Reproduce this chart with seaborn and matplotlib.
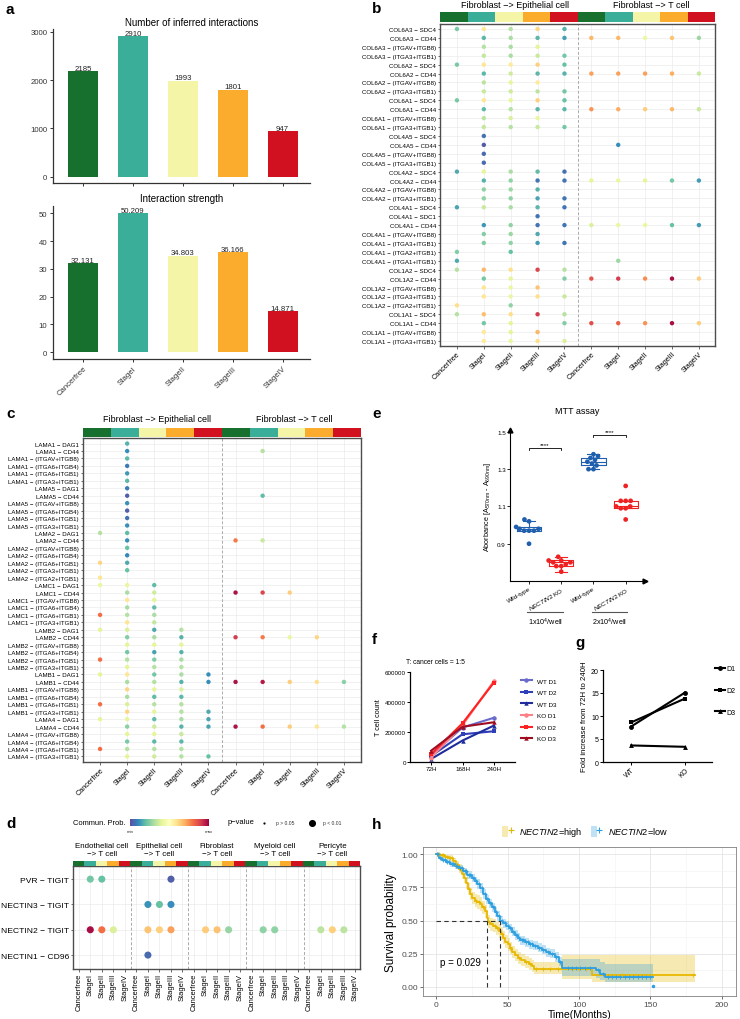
import numpy as np
import pandas as pd
import matplotlib
matplotlib.use("Agg")
import matplotlib.pyplot as plt
import matplotlib.ticker as mticker
import seaborn as sns
from matplotlib.lines import Line2D
from matplotlib.patches import Patch
from matplotlib.legend_handler import HandlerTuple

plt.rcParams["font.family"] = ["Liberation Sans", "DejaVu Sans"]
plt.rcParams["mathtext.fontset"] = "custom"
plt.rcParams["mathtext.rm"] = "Liberation Sans"
plt.rcParams["mathtext.it"] = "Liberation Sans:italic"
plt.rcParams["axes.unicode_minus"] = True

_ = None
# ---------------- data ----------------
stages = ["Cancerfree", "StageI", "StageII", "StageIII", "StageIV"]
stage_colors = ["#17702E", "#3AAE99", "#F5F5A7", "#FBAC2C", "#D1111F"]

a_counts = [2185, 2910, 1993, 1801, 947]
a_strength = [32.131, 50.209, 34.803, 36.166, 14.871]

b_headers = ["Fibroblast −> Epithelial cell", "Fibroblast −> T cell"]
b_rows = [
    "COL6A3 − SDC4", "COL6A3 − CD44", "COL6A3 − (ITGAV+ITGB8)", "COL6A3 − (ITGA3+ITGB1)",
    "COL6A2 − SDC4", "COL6A2 − CD44", "COL6A2 − (ITGAV+ITGB8)", "COL6A2 − (ITGA3+ITGB1)",
    "COL6A1 − SDC4", "COL6A1 − CD44", "COL6A1 − (ITGAV+ITGB8)", "COL6A1 − (ITGA3+ITGB1)",
    "COL4A5 − SDC4", "COL4A5 − CD44", "COL4A5 − (ITGAV+ITGB8)", "COL4A5 − (ITGA3+ITGB1)",
    "COL4A2 − SDC4", "COL4A2 − CD44", "COL4A2 − (ITGAV+ITGB8)", "COL4A2 − (ITGA3+ITGB1)",
    "COL4A1 − SDC4", "COL4A1 − SDC1", "COL4A1 − CD44", "COL4A1 − (ITGAV+ITGB8)",
    "COL4A1 − (ITGA3+ITGB1)", "COL4A1 − (ITGA2+ITGB1)", "COL4A1 − (ITGA1+ITGB1)",
    "COL1A2 − SDC4", "COL1A2 − CD44", "COL1A2 − (ITGAV+ITGB8)", "COL1A2 − (ITGA3+ITGB1)",
    "COL1A2 − (ITGA2+ITGB1)", "COL1A1 − SDC4", "COL1A1 − CD44", "COL1A1 − (ITGAV+ITGB8)",
    "COL1A1 − (ITGA3+ITGB1)",
]
b_vals = [
    [0.23, 0.58, 0.32, 0.62, 0.17, _, _, _, _, _],
    [_, 0.18, 0.30, 0.18, 0.14, 0.68, 0.68, 0.43, 0.66, 0.28],
    [_, 0.32, 0.30, 0.40, _, _, _, _, _, _],
    [_, 0.34, 0.30, 0.35, 0.22, _, _, _, _, _],
    [0.23, 0.58, 0.57, 0.63, 0.20, _, _, _, _, _],
    [_, 0.18, 0.36, 0.18, 0.175, 0.72, 0.72, 0.72, 0.70, 0.35],
    [_, 0.33, 0.41, 0.57, _, _, _, _, _, _],
    [_, 0.35, 0.36, 0.33, 0.22, _, _, _, _, _],
    [0.23, 0.58, 0.41, 0.63, 0.20, _, _, _, _, _],
    [_, 0.18, 0.32, 0.18, 0.18, 0.74, 0.70, 0.64, 0.68, 0.35],
    [_, 0.33, 0.38, 0.42, _, _, _, _, _, _],
    [_, 0.34, 0.32, 0.35, 0.22, _, _, _, _, _],
    [_, 0.06, _, _, _, _, _, _, _, _],
    [_, 0.02, _, _, _, _, 0.11, _, _, _],
    [_, 0.05, _, _, _, _, _, _, _, _],
    [_, 0.05, _, _, _, _, _, _, _, _],
    [0.16, 0.40, 0.30, 0.19, 0.06, _, _, _, _, _],
    [_, 0.175, 0.26, 0.07, 0.07, 0.40, 0.42, 0.40, 0.22, 0.135],
    [_, 0.26, 0.28, 0.175, _, _, _, _, _, _],
    [_, 0.26, 0.26, 0.15, 0.07, _, _, _, _, _],
    [0.15, 0.35, 0.30, 0.18, 0.07, _, _, _, _, _],
    [_, _, _, 0.07, _, _, _, _, _, _],
    [_, 0.125, 0.26, 0.07, 0.07, 0.38, 0.42, 0.42, 0.20, 0.135],
    [_, 0.24, 0.28, 0.16, _, _, _, _, _, _],
    [_, 0.24, 0.26, 0.135, 0.07, _, _, _, _, _],
    [0.24, _, 0.20, _, _, _, _, _, _, _],
    [0.16, _, _, _, _, _, 0.28, _, _, _],
    [0.32, 0.68, 0.60, 0.88, 0.32, _, _, _, _, _],
    [_, 0.22, 0.40, _, 0.24, 0.85, 0.90, 0.75, 0.98, 0.64],
    [_, 0.58, 0.42, 0.66, _, _, _, _, _, _],
    [_, 0.58, 0.42, 0.60, 0.35, _, _, _, _, _],
    [0.60, _, 0.26, _, _, _, _, _, _, _],
    [0.32, 0.67, 0.60, 0.90, 0.32, _, _, _, _, _],
    [_, 0.22, 0.40, _, 0.24, 0.86, 0.83, 0.74, 0.98, 0.64],
    [_, 0.57, 0.40, 0.68, _, _, _, _, _, _],
    [_, 0.57, 0.42, 0.60, 0.38, _, _, _, _, _],
]

c_rows = [
    "LAMA1 − DAG1", "LAMA1 − CD44", "LAMA1 − (ITGAV+ITGB8)", "LAMA1 − (ITGA6+ITGB4)",
    "LAMA1 − (ITGA6+ITGB1)", "LAMA1 − (ITGA3+ITGB1)",
    "LAMA5 − DAG1", "LAMA5 − CD44", "LAMA5 − (ITGAV+ITGB8)", "LAMA5 − (ITGA6+ITGB4)",
    "LAMA5 − (ITGA6+ITGB1)", "LAMA5 − (ITGA3+ITGB1)",
    "LAMA2 − DAG1", "LAMA2 − CD44", "LAMA2 − (ITGAV+ITGB8)", "LAMA2 − (ITGA6+ITGB4)",
    "LAMA2 − (ITGA6+ITGB1)", "LAMA2 − (ITGA3+ITGB1)", "LAMA2 − (ITGA2+ITGB1)",
    "LAMC1 − DAG1", "LAMC1 − CD44", "LAMC1 − (ITGAV+ITGB8)", "LAMC1 − (ITGA6+ITGB4)",
    "LAMC1 − (ITGA6+ITGB1)", "LAMC1 − (ITGA3+ITGB1)",
    "LAMB2 − DAG1", "LAMB2 − CD44", "LAMB2 − (ITGAV+ITGB8)", "LAMB2 − (ITGA6+ITGB4)",
    "LAMB2 − (ITGA6+ITGB1)", "LAMB2 − (ITGA3+ITGB1)",
    "LAMB1 − DAG1", "LAMB1 − CD44", "LAMB1 − (ITGAV+ITGB8)", "LAMB1 − (ITGA6+ITGB4)",
    "LAMB1 − (ITGA6+ITGB1)", "LAMB1 − (ITGA3+ITGB1)",
    "LAMA4 − DAG1", "LAMA4 − CD44", "LAMA4 − (ITGAV+ITGB8)", "LAMA4 − (ITGA6+ITGB4)",
    "LAMA4 − (ITGA6+ITGB1)", "LAMA4 − (ITGA3+ITGB1)",
]
c_vals = [
    [_, 0.175, _, _, _, _, _, _, _, _],
    [_, 0.11, _, _, _, _, 0.32, _, _, _],
    [_, 0.185, _, _, _, _, _, _, _, _],
    [_, 0.08, _, _, _, _, _, _, _, _],
    [_, 0.13, _, _, _, _, _, _, _, _],
    [_, 0.185, _, _, _, _, _, _, _, _],
    [_, 0.08, _, _, _, _, _, _, _, _],
    [_, 0.03, _, _, _, _, 0.19, _, _, _],
    [_, 0.12, _, _, _, _, _, _, _, _],
    [_, 0.03, _, _, _, _, _, _, _, _],
    [_, 0.06, _, _, _, _, _, _, _, _],
    [_, 0.115, _, _, _, _, _, _, _, _],
    [0.32, 0.19, _, _, _, _, _, _, _, _],
    [_, 0.11, _, _, _, 0.78, 0.35, _, _, _],
    [_, 0.20, _, _, _, _, _, _, _, _],
    [_, 0.10, _, _, _, _, _, _, _, _],
    [0.62, 0.16, _, _, _, _, _, _, _, _],
    [_, 0.20, _, _, _, _, _, _, _, _],
    [0.58, _, _, _, _, _, _, _, _, _],
    [0.42, 0.42, 0.19, _, _, _, _, _, _, _],
    [_, 0.30, 0.36, _, _, 0.97, 0.88, 0.64, _, _],
    [_, 0.58, 0.40, _, _, _, _, _, _, _],
    [_, 0.30, 0.19, _, _, _, _, _, _, _],
    [0.80, 0.32, 0.30, _, _, _, _, _, _, _],
    [_, 0.58, 0.34, _, _, _, _, _, _, _],
    [0.40, 0.38, 0.16, 0.32, _, _, _, _, _, _],
    [_, 0.24, 0.30, 0.175, _, 0.90, 0.78, 0.42, 0.62, _],
    [_, 0.40, 0.40, 0.40, _, _, _, _, _, _],
    [_, 0.22, 0.145, 0.175, _, _, _, _, _, _],
    [0.80, 0.32, 0.24, 0.30, _, _, _, _, _, _],
    [_, 0.40, 0.32, 0.32, _, _, _, _, _, _],
    [0.40, 0.58, 0.22, 0.30, 0.11, _, _, _, _, _],
    [_, 0.30, 0.32, 0.175, 0.11, 0.97, 0.96, 0.64, 0.60, 0.25],
    [_, 0.62, 0.40, 0.38, _, _, _, _, _, _],
    [_, 0.30, 0.19, 0.185, _, _, _, _, _, _],
    [0.80, 0.38, 0.32, 0.32, _, _, _, _, _, _],
    [_, 0.62, 0.40, 0.32, 0.16, _, _, _, _, _],
    [0.40, 0.40, 0.19, 0.30, 0.15, _, _, _, _, _],
    [_, 0.25, 0.36, 0.175, 0.15, 0.97, 0.80, 0.64, 0.58, 0.32],
    [_, 0.40, 0.40, 0.35, _, _, _, _, _, _],
    [_, 0.23, 0.185, 0.18, _, _, _, _, _, _],
    [0.80, 0.32, 0.32, 0.32, _, _, _, _, _, _],
    [_, 0.40, 0.36, 0.32, 0.20, _, _, _, _, _],
]

d_groups = ["Endothelial cell", "Epithelial cell", "Fibroblast", "Myeloid cell", "Pericyte"]
d_rows = ["PVR − TIGIT", "NECTIN3 − TIGIT", "NECTIN2 − TIGIT", "NECTIN1 − CD96"]
d_vals = [
    [_, 0.22, 0.20, _, _, _, _, _, 0.03, _, _, _, _, _, _, _, _, _, _, _, _, _, _, _, _],
    [_, _, _, _, _, _, 0.12, 0.20, 0.11, _, _, _, _, _, _, _, _, _, _, _, _, _, _, _, _],
    [_, 0.98, 0.80, 0.38, _, _, 0.66, 0.63, 0.72, _, _, 0.64, 0.66, 0.27, _, _, 0.26, 0.26, _, _, _, 0.33, 0.63, 0.33, _],
    [_, _, _, _, _, _, 0.05, _, _, _, _, _, _, _, _, _, _, _, _, _, _, _, _, _, _],
]

e_wt1 = [0.90, 0.97, 0.97, 0.97, 0.98, 0.98, 0.99, 1.02, 1.03]
e_ko1 = [0.75, 0.78, 0.78, 0.79, 0.80, 0.80, 0.81, 0.81, 0.83]
e_wt2 = [1.30, 1.30, 1.32, 1.33, 1.34, 1.35, 1.36, 1.37, 1.38]
e_ko2 = [1.03, 1.09, 1.09, 1.10, 1.10, 1.13, 1.13, 1.13, 1.21]
e_xlabels = ["Wild-type", r"$\it{NECTIN2}$ KO", "Wild-type", r"$\it{NECTIN2}$ KO"]
e_density = [r"1x10$^4$/well", r"2x10$^4$/well"]

f_times = ["72H", "168H", "240H"]
f_wt_d1 = [45000, 230000, 295000]
f_wt_d2 = [40000, 185000, 205000]
f_wt_d3 = [20000, 143000, 243000]
f_ko_d1 = [30000, 245000, 540000]
f_ko_d2 = [52000, 258000, 530000]
f_ko_d3 = [75000, 235000, 265000]
f_names = ["WT D1", "WT D2", "WT D3", "KO D1", "KO D2", "KO D3"]
f_colors = ["#6B6BCB", "#2F3FB8", "#1E2C9C", "#FF7F86", "#FF2222", "#A00D22"]

g_groups = ["WT", "KO"]
g_d1 = [7.7, 15.1]
g_d2 = [8.6, 13.8]
g_d3 = [3.6, 3.3]

km_hi_t = [0, 3, 6, 9, 12, 14, 16, 18, 19.5, 21, 22.5, 24, 25.5, 27, 29, 31, 32.5, 34, 35.5, 36.5,
           38, 40, 42, 44, 45.5, 47, 48.5, 50, 51.5, 53, 55, 57, 59.5, 62, 65, 67, 68.5, 88, 109, 181]
km_hi_s = [1.00, 0.99, 0.98, 0.97, 0.945, 0.92, 0.89, 0.85, 0.82, 0.78, 0.74, 0.70, 0.67, 0.65, 0.64,
           0.625, 0.60, 0.57, 0.52, 0.49, 0.47, 0.46, 0.44, 0.42, 0.40, 0.37, 0.34, 0.32, 0.29, 0.26,
           0.24, 0.22, 0.20, 0.185, 0.17, 0.155, 0.137, 0.137, 0.087, 0.087]
km_hi_lo = [1.00, 0.98, 0.965, 0.95, 0.92, 0.89, 0.855, 0.81, 0.78, 0.735, 0.695, 0.655, 0.625, 0.60,
            0.59, 0.575, 0.55, 0.52, 0.47, 0.44, 0.42, 0.41, 0.39, 0.37, 0.35, 0.32, 0.29, 0.27,
            0.245, 0.215, 0.195, 0.175, 0.16, 0.145, 0.13, 0.115, 0.095, 0.06, 0.04, 0.04]
km_hi_up = [1.00, 1.00, 0.995, 0.99, 0.97, 0.95, 0.925, 0.89, 0.86, 0.825, 0.785, 0.745, 0.715, 0.70,
            0.69, 0.675, 0.65, 0.62, 0.57, 0.54, 0.52, 0.51, 0.49, 0.47, 0.45, 0.42, 0.39, 0.37,
            0.34, 0.305, 0.285, 0.265, 0.245, 0.23, 0.215, 0.20, 0.185, 0.24, 0.24, 0.24]
km_lo_t = [0, 2, 4, 7, 10, 13, 16, 19, 22, 25, 27, 29, 31, 33, 35, 37, 39, 41, 43, 45, 47, 49, 51, 53,
           55, 57, 59, 62, 65, 68, 71, 74, 77, 80, 83, 86, 88, 112, 115, 118, 152]
km_lo_s = [1.00, 0.97, 0.955, 0.94, 0.925, 0.91, 0.895, 0.87, 0.845, 0.82, 0.80, 0.775, 0.745, 0.70,
           0.66, 0.63, 0.60, 0.565, 0.535, 0.50, 0.48, 0.46, 0.44, 0.415, 0.39, 0.37, 0.35, 0.335,
           0.32, 0.31, 0.295, 0.28, 0.26, 0.25, 0.225, 0.19, 0.14, 0.13, 0.10, 0.075, 0.075]
km_lo_lo = [1.00, 0.955, 0.94, 0.925, 0.905, 0.89, 0.87, 0.845, 0.815, 0.79, 0.765, 0.74, 0.71, 0.665,
            0.625, 0.595, 0.565, 0.53, 0.50, 0.465, 0.445, 0.425, 0.405, 0.38, 0.355, 0.335, 0.315,
            0.30, 0.285, 0.275, 0.26, 0.245, 0.225, 0.215, 0.19, 0.155, 0.08, 0.07, 0.05, 0.035, 0.035]
km_lo_up = [1.00, 0.985, 0.975, 0.96, 0.945, 0.93, 0.915, 0.895, 0.87, 0.85, 0.83, 0.81, 0.78, 0.735,
            0.695, 0.665, 0.635, 0.60, 0.57, 0.535, 0.515, 0.495, 0.475, 0.45, 0.425, 0.405, 0.385,
            0.37, 0.355, 0.345, 0.33, 0.315, 0.295, 0.285, 0.26, 0.225, 0.21, 0.21, 0.19, 0.17, 0.17]
km_hi_cens = [1, 2, 4, 5, 8, 10, 11, 15, 17, 23, 28, 30, 33, 37, 41, 43, 46, 52, 58, 63, 66, 70, 75,
              80, 85, 95, 100, 105, 130, 180]
km_lo_cens = [1, 1.5, 3, 5, 6, 8, 9, 11, 12, 14, 15, 17, 18, 20, 21, 23, 24, 26, 28, 30, 32, 34, 36,
              38, 40, 42, 44, 46, 48, 50, 52, 54, 56, 58, 60, 61, 63, 64, 66, 67, 69, 72, 75, 78, 81,
              84, 87, 92, 95, 98, 101, 104, 108, 113, 117, 120, 123, 126, 129, 132, 135, 138, 141,
              144, 147, 150]
km_lo_last = (152, 0.01)
km_medians = [36, 45]
km_labels = [r"$\it{NECTIN2}$=high", r"$\it{NECTIN2}$=low"]
km_colors = ["#E7B800", "#2E9FDF"]

# ---------------- figure ----------------
W, H = 740, 1020
fig = plt.figure(figsize=(W / 100, H / 100), dpi=100)


def rect(l, t, r, b):
    return [l / W, 1 - b / H, (r - l) / W, (b - t) / H]


def ftext(x, y, s, **kw):
    kw.setdefault("ha", "center")
    kw.setdefault("va", "center")
    fig.text(x / W, 1 - y / H, s, **kw)


def panel_letter(x, y, s):
    ftext(x, y, s, fontsize=11, fontweight="bold", ha="left")


def strip(l, t, r, b, colors):
    sa = fig.add_axes(rect(l, t, r, b))
    n = len(colors)
    sa.bar(np.arange(n) + 0.5, np.ones(n), width=1.0, color=colors, linewidth=0)
    sa.set_xlim(0, n)
    sa.set_ylim(0, 1)
    sa.axis("off")


def dotplot(ax, rows, vals, size):
    recs = []
    for i, row in enumerate(vals):
        for j, v in enumerate(row):
            if v is not None:
                recs.append((j, i, v))
    df = pd.DataFrame(recs, columns=["x", "y", "prob"])
    sns.scatterplot(data=df, x="x", y="y", hue="prob", palette="Spectral_r", hue_norm=(0, 1),
                    s=size, linewidth=0, legend=False, ax=ax, zorder=3)
    ncol = len(vals[0])
    ax.set_xticks(range(ncol))
    ax.set_yticks(range(len(rows)))
    ax.set_yticklabels(rows)
    ax.grid(True, color="#EBEBEB", lw=0.5)
    ax.set_axisbelow(True)
    ax.set_xlabel("")
    ax.set_ylabel("")
    for sp in ax.spines.values():
        sp.set_color("#4D4D4D")
        sp.set_linewidth(1.0)
    ax.tick_params(length=1.8, width=0.5, color="#333333", pad=1)


# ---------------- panel a ----------------
df_a = pd.DataFrame({"stage": stages, "count": a_counts, "strength": a_strength})
panel_letter(6, 10, "a")
for col, (t, b), title, (tx, ty), ylim, yt in [
    ("count", (30, 184), "Number of inferred interactions", (192, 23), (-130, 3060), [0, 1000, 2000, 3000]),
    ("strength", (207, 360), "Interaction strength", (182, 199), (-2.5, 52.7), [0, 10, 20, 30, 40, 50]),
]:
    ax = fig.add_axes(rect(53, t, 310, b))
    sns.barplot(data=df_a, x="stage", y=col, hue="stage", palette=stage_colors, width=0.6,
                saturation=1, errorbar=None, legend=False, ax=ax)
    for cont in ax.containers:
        ax.bar_label(cont, fontsize=5.6, padding=-0.5, color="#222222")
    ax.set_ylim(*ylim)
    ax.set_yticks(yt)
    ax.set_xlim(-0.6, 4.55)
    ax.set_xlabel("")
    ax.set_ylabel("")
    for s in ["top", "right"]:
        ax.spines[s].set_visible(False)
    for s in ["left", "bottom"]:
        ax.spines[s].set_color("#333333")
        ax.spines[s].set_linewidth(0.9)
    ax.tick_params(length=2.5, width=0.7, color="#333333", labelsize=5.6, labelcolor="#333333", pad=1.5)
    if col == "count":
        ax.set_xticklabels([])
    else:
        ax.set_xticks(range(5))
        ax.set_xticklabels(stages, rotation=45, ha="right", rotation_mode="anchor", fontsize=5.6)
    ftext(tx, ty, title, fontsize=7)

# ---------------- panel b ----------------
panel_letter(372, 9, "b")
ax_b = fig.add_axes(rect(440, 25, 715, 347))
dotplot(ax_b, b_rows, b_vals, 10)
ax_b.set_xlim(-0.63, 9.6)
ax_b.set_ylim(35.56, -0.56)
ax_b.axvline(4.5, color="#AAAAAA", lw=0.7, ls=(0, (3, 2)), zorder=2)
ax_b.set_xticklabels(stages * 2, rotation=45, ha="right", rotation_mode="anchor", fontsize=5.2)
ax_b.tick_params(axis="y", labelsize=4.4)
strip(440, 13, 715, 23, stage_colors * 2)
ftext(515, 6, b_headers[0], fontsize=6.5)
ftext(651, 6, b_headers[1], fontsize=6.5)

# ---------------- panel c ----------------
panel_letter(6, 414, "c")
ax_c = fig.add_axes(rect(83, 439, 361, 763))
dotplot(ax_c, c_rows, c_vals, 10)
ax_c.set_xlim(-0.63, 9.63)
ax_c.set_ylim(42.75, -0.75)
ax_c.axvline(4.5, color="#AAAAAA", lw=0.7, ls=(0, (3, 2)), zorder=2)
ax_c.set_xticklabels(stages * 2, rotation=45, ha="right", rotation_mode="anchor", fontsize=5.2)
ax_c.tick_params(axis="y", labelsize=4.4)
strip(83, 429, 361, 438, stage_colors * 2)
ftext(157, 420, b_headers[0], fontsize=6.5)
ftext(294, 420, b_headers[1], fontsize=6.5)

# ---------------- panel d ----------------
panel_letter(6, 824, "d")
ax_d = fig.add_axes(rect(73, 867, 360, 970))
dotplot(ax_d, d_rows, d_vals, 26)
ax_d.set_xlim(-0.5, 24.4)
ax_d.set_ylim(3.55, -0.52)
for xv in [4.5, 9.5, 14.5, 19.5]:
    ax_d.axvline(xv, color="#AAAAAA", lw=0.7, ls=(0, (3, 2)), zorder=2)
ax_d.set_xticklabels(stages * 5, rotation=90, fontsize=5.4)
ax_d.tick_params(axis="y", labelsize=6.1)
for g, name in enumerate(d_groups):
    ax_d.text(5 * g + 2, 1.16, name + "\n−> T cell", transform=ax_d.get_xaxis_transform(),
              ha="center", va="center", fontsize=5.7, linespacing=1.05)
strip(73, 862, 360, 867, stage_colors * 5)
# legend row
ftext(73, 824, "Commun. Prob.", fontsize=5.4, ha="left")
cb = fig.add_axes(rect(130, 820, 209, 827))
cb.imshow(np.linspace(0, 1, 256)[None, :], aspect="auto", cmap="Spectral_r")
cb.axis("off")
ftext(130, 832, "min", fontsize=3.2, color="#333333")
ftext(209, 832, "max", fontsize=3.2, color="#333333")
ftext(228, 823, "p−value", fontsize=5.4, ha="left")
lg = fig.add_axes(rect(0, 812, 370, 838))
lg.set_xlim(0, 370)
lg.set_ylim(838, 812)
lg.axis("off")
lg.scatter([264], [824], s=2.5, c="black", linewidths=0)
lg.scatter([312], [824], s=26, c="black", linewidths=0)
ftext(276, 824, "p > 0.05", fontsize=3.6, ha="left", color="#333333")
ftext(323, 824, "p < 0.01", fontsize=3.6, ha="left", color="#333333")

# ---------------- panel e ----------------
panel_letter(372, 414, "e")
e_grp = ["WT1"] * len(e_wt1) + ["KO1"] * len(e_ko1) + ["WT2"] * len(e_wt2) + ["KO2"] * len(e_ko2)
e_geno = ["WT"] * len(e_wt1) + ["KO"] * len(e_ko1) + ["WT"] * len(e_wt2) + ["KO"] * len(e_ko2)
df_e = pd.DataFrame({"grp": e_grp, "val": e_wt1 + e_ko1 + e_wt2 + e_ko2, "geno": e_geno})
e_pal = {"WT": "#1F5FAD", "KO": "#EE2222"}
ax_e = fig.add_axes(rect(510, 431, 645, 582))
order = ["WT1", "KO1", "WT2", "KO2"]
sns.boxplot(data=df_e, x="grp", y="val", hue="geno", palette=e_pal, order=order, dodge=False,
            fill=False, width=0.75, linewidth=0.8, showfliers=False, legend=False, ax=ax_e)
sns.swarmplot(data=df_e, x="grp", y="val", hue="geno", palette=e_pal, order=order, dodge=False,
              size=3.4, legend=False, ax=ax_e, zorder=3)
ax_e.set_xlim(-0.59, 3.6)
ax_e.set_ylim(0.7, 1.51)
ax_e.set_yticks([0.9, 1.1, 1.3, 1.5])
ax_e.set_xticks(range(4))
ax_e.set_xticklabels(e_xlabels, rotation=30, ha="right", rotation_mode="anchor", fontsize=4.5)
ax_e.set_xlabel("")
ax_e.set_ylabel(r"Aborbance [A$_{\mathrm{570nm}}$ - A$_{\mathrm{690nm}}$]", fontsize=5.2, labelpad=3)
for s in ["top", "right"]:
    ax_e.spines[s].set_visible(False)
for s in ["left", "bottom"]:
    ax_e.spines[s].set_linewidth(0.8)
ax_e.tick_params(length=2, width=0.6, labelsize=4.5, pad=1)
ax_e.plot([0], [1], marker="^", color="black", ms=3.5, transform=ax_e.transAxes, clip_on=False)
ax_e.plot([1], [0], marker=">", color="black", ms=3.5, transform=ax_e.transAxes, clip_on=False)
for (x0, x1, yb) in [(0, 1, 1.413), (2, 3, 1.484)]:
    ax_e.plot([x0, x0, x1, x1], [yb - 0.012, yb, yb, yb - 0.012], color="black", lw=0.6, clip_on=False)
    ax_e.text((x0 + x1) / 2, yb + 0.004, "****", ha="center", va="bottom", fontsize=4.5)
ax_e.set_title("MTT assay", fontsize=6.5, pad=12)
tr = ax_e.get_xaxis_transform()
for k, lab in enumerate(e_density):
    ax_e.plot([2 * k - 0.05, 2 * k + 1.05], [-0.205, -0.205], color="#555555", lw=0.8,
              transform=tr, clip_on=False)
    ax_e.text(2 * k + 0.5, -0.265, lab, ha="center", va="center", fontsize=5.2, transform=tr)

# ---------------- panel f ----------------
panel_letter(372, 640, "f")
f_series = [f_wt_d1, f_wt_d2, f_wt_d3, f_ko_d1, f_ko_d2, f_ko_d3]
recs = []
for name, ser in zip(f_names, f_series):
    for k, v in enumerate(ser):
        recs.append((name, k, v))
df_f = pd.DataFrame(recs, columns=["sample", "t", "count"])
ax_f = fig.add_axes(rect(410, 673, 515, 763))
f_markers = dict(zip(f_names, ["o", "s", "^", "o", "s", "^"]))
sns.lineplot(data=df_f, x="t", y="count", hue="sample", style="sample", hue_order=f_names,
             style_order=f_names, palette=dict(zip(f_names, f_colors)), markers=f_markers,
             dashes=False, linewidth=1.5, markersize=3.2, markeredgewidth=0, ax=ax_f)
ax_f.set_xlim(-0.67, 2.67)
ax_f.set_ylim(0, 600000)
ax_f.set_xticks(range(3))
ax_f.set_xticklabels(f_times)
ax_f.set_yticks([0, 200000, 400000, 600000])
ax_f.yaxis.set_major_formatter(mticker.StrMethodFormatter("{x:.0f}"))
ax_f.set_xlabel("")
ax_f.set_ylabel("T cell count", fontsize=5.2, labelpad=2)
for s in ["top", "right"]:
    ax_f.spines[s].set_visible(False)
for s in ["left", "bottom"]:
    ax_f.spines[s].set_linewidth(0.9)
ax_f.tick_params(length=2, width=0.7, labelsize=4.5, pad=1)
sns.move_legend(ax_f, "upper left", bbox_to_anchor=(1.03, 0.96), frameon=False, fontsize=4.6,
                title=None, handlelength=1.8, labelspacing=0.95, borderaxespad=0)
ftext(435, 663, "T: cancer cells = 1:5", fontsize=4.8)

# ---------------- panel g ----------------
panel_letter(575, 643, "g")
g_names = ["D1", "D2", "D3"]
recs = []
for name, ser in zip(g_names, [g_d1, g_d2, g_d3]):
    for k, v in enumerate(ser):
        recs.append((name, k, v))
df_g = pd.DataFrame(recs, columns=["donor", "x", "fold"])
ax_g = fig.add_axes(rect(603, 671, 712, 763))
sns.lineplot(data=df_g, x="x", y="fold", hue="donor", style="donor", hue_order=g_names,
             style_order=g_names, palette={n: "black" for n in g_names},
             markers={"D1": "o", "D2": "s", "D3": "^"}, dashes=False, linewidth=1.5,
             markersize=3.5, markeredgewidth=0, ax=ax_g)
ax_g.set_xlim(-0.52, 1.5)
ax_g.set_ylim(0, 20)
ax_g.set_yticks([0, 5, 10, 15, 20])
ax_g.set_xticks([0, 1])
ax_g.set_xticklabels(g_groups, rotation=45, ha="right", rotation_mode="anchor")
ax_g.set_xlabel("")
ax_g.set_ylabel("Fold increase from 72H to 240H", fontsize=5.6, labelpad=2)
for s in ["top", "right"]:
    ax_g.spines[s].set_visible(False)
for s in ["left", "bottom"]:
    ax_g.spines[s].set_linewidth(0.9)
ax_g.tick_params(length=2, width=0.7, labelsize=5, pad=1)
sns.move_legend(ax_g, "upper left", bbox_to_anchor=(1.0, 1.08), frameon=False, fontsize=5.0,
                title=None, handlelength=1.4, labelspacing=2.1, borderaxespad=0, handletextpad=0.3)

# ---------------- panel h ----------------
panel_letter(372, 825, "h")
ax_h = fig.add_axes(rect(423, 848, 736, 997))
km_sets = [
    (km_hi_t, km_hi_s, km_hi_lo, km_hi_up, km_hi_cens, km_colors[0]),
    (km_lo_t, km_lo_s, km_lo_lo, km_lo_up, km_lo_cens, km_colors[1]),
]
for t, s, lo, up, cens, colr in km_sets:
    ax_h.fill_between(t, lo, up, step="post", color=colr, alpha=0.3, lw=0, zorder=2)
for t, s, lo, up, cens, colr in km_sets:
    sns.lineplot(x=t, y=s, drawstyle="steps-post", color=colr, lw=1.3, estimator=None,
                 sort=False, ax=ax_h, zorder=3)
    idx = np.searchsorted(np.array(t), np.array(cens), side="right") - 1
    ax_h.plot(cens, np.array(s)[idx], "+", color=colr, ms=3.2, mew=0.6, zorder=4)
ax_h.plot([km_lo_last[0]], [km_lo_last[1]], "o", color=km_colors[1], ms=1.5, zorder=4)
ax_h.plot([0, max(km_medians)], [0.5, 0.5], ls=(0, (4, 3)), color="#333333", lw=0.8, zorder=5)
for m in km_medians:
    ax_h.plot([m, m], [0, 0.5], ls=(0, (4, 3)), color="#333333", lw=0.8, zorder=5)
ax_h.text(3, 0.19, "p = 0.029", fontsize=7, va="center", ha="left")
ax_h.set_xlim(-9.1, 209.8)
ax_h.set_ylim(-0.068, 1.053)
ax_h.set_xticks([0, 50, 100, 150, 200])
ax_h.set_xticks([25, 75, 125, 175], minor=True)
ax_h.set_yticks([0, 0.25, 0.5, 0.75, 1.0])
ax_h.set_yticks([0.125, 0.375, 0.625, 0.875], minor=True)
ax_h.yaxis.set_major_formatter(mticker.StrMethodFormatter("{x:.2f}"))
ax_h.grid(True, which="major", color="#E5E5E5", lw=0.6)
ax_h.grid(True, which="minor", color="#F2F2F2", lw=0.4)
ax_h.set_axisbelow(True)
for sp in ax_h.spines.values():
    sp.set_color("#808080")
    sp.set_linewidth(0.6)
ax_h.tick_params(which="major", length=2, width=0.5, color="#333333", labelsize=6,
                 labelcolor="#4D4D4D", pad=1.5)
ax_h.tick_params(which="minor", length=0)
ax_h.set_xlabel("Time(Months)", fontsize=7.5, labelpad=1)
ax_h.set_ylabel("Survival probability", fontsize=8.5, labelpad=3)
handles = []
for colr in km_colors:
    handles.append((Patch(facecolor=colr, alpha=0.3, edgecolor="none"),
                    Line2D([], [], marker="+", ls="", color=colr, ms=5, mew=0.8)))
fig.legend(handles, km_labels, handler_map={tuple: HandlerTuple(ndivide=None, pad=0)},
           loc="center", bbox_to_anchor=(585 / W, 1 - 833 / H), ncol=2, frameon=False,
           fontsize=6.6, handlelength=1.2, handleheight=1.6, columnspacing=1.0, handletextpad=0.6)

fig.savefig("out.png", dpi=100)
